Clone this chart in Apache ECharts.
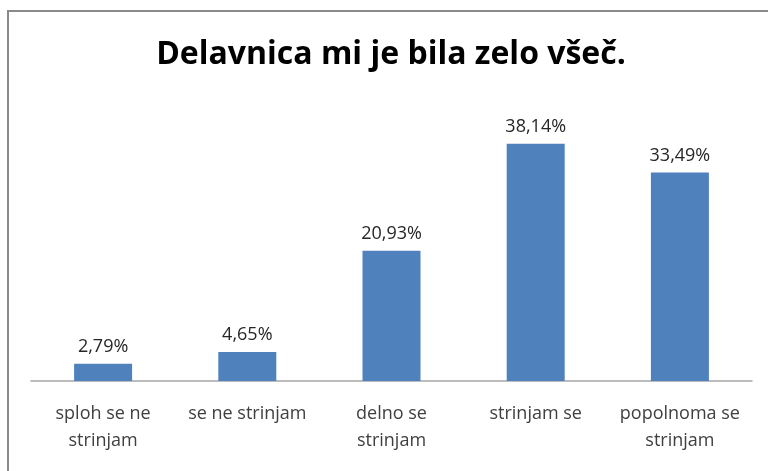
<!DOCTYPE html>
<html>
<head>
<meta charset="utf-8">
<script src="https://cdn.jsdelivr.net/npm/echarts@6/dist/echarts.min.js"></script>
<style>
  html, body { margin: 0; padding: 0; background: #fff; }
  #chart { width: 768px; height: 471px; }
</style>
</head>
<body>
<div id="chart"></div>
<script>
// odgovori na trditev
var categories = ['sploh se ne\nstrinjam', 'se ne strinjam', 'delno se\nstrinjam', 'strinjam se', 'popolnoma se\nstrinjam'];
var shares = [2.79, 4.65, 20.93, 38.14, 33.49];
var titleText = 'Delavnica mi je bila zelo všeč.';

var chart = echarts.init(document.getElementById('chart'));

var option = {
    animation: false,
    backgroundColor: '#fff',
    textStyle: { fontFamily: 'Open Sans' },
    title: {
        text: titleText,
        left: 386,
        textAlign: 'center',
        top: 34,
        textStyle: { fontFamily: 'Open Sans', fontWeight: 'bold', fontSize: 32, color: '#000' }
    },
    graphic: [{
        type: 'polyline',
        shape: { points: [[8, 520], [8, 11], [900, 11]] },
        style: { stroke: '#8a8a8a', lineWidth: 2, fill: null },
        silent: true
    }],
    grid: { left: 31, right: 16, top: 101, bottom: 90, containLabel: false },
    xAxis: {
        type: 'category',
        data: categories,
        axisLine: { lineStyle: { color: '#a6a6a6', width: 1.5 } },
        axisTick: { show: false },
        axisLabel: {
            interval: 0,
            margin: 19,
            fontSize: 18,
            lineHeight: 27,
            color: '#404040'
        }
    },
    yAxis: {
        type: 'value',
        min: 0,
        max: 45,
        show: false,
        splitLine: { show: false }
    },
    series: [{
        type: 'bar',
        data: shares,
        barWidth: 58,
        itemStyle: { color: '#4f81bd' },
        label: {
            show: true,
            position: 'top',
            distance: 8,
            fontSize: 18,
            color: '#262626',
            formatter: function (p) {
                return p.value.toFixed(2).replace('.', ',') + '%';
            }
        }
    }]
};

chart.setOption(option);
</script>
</body>
</html>
